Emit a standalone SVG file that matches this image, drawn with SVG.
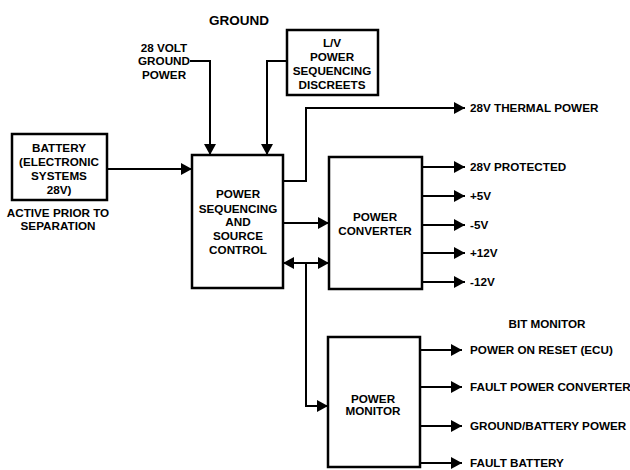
<svg xmlns="http://www.w3.org/2000/svg" width="630" height="470" viewBox="0 0 630 470">
<style>
text{font-family:"Liberation Sans",Arial,sans-serif;font-weight:bold;font-size:11.7px;fill:#000}
.c{text-anchor:middle}
.box{fill:#fff;stroke:#000;stroke-width:2.5}
.ln{fill:none;stroke:#000;stroke-width:2}
</style>
<defs>
<marker id="ah" markerUnits="userSpaceOnUse" markerWidth="11" markerHeight="12" refX="11" refY="6" orient="auto-start-reverse">
<path d="M0,0 L11,6 L0,12 z" fill="#000"/>
</marker>
</defs>
<rect width="630" height="470" fill="#fff"/>
<text class="c" x="239" y="25" style="font-size:13.5px">GROUND</text>
<g id="ground-power">
<text class="c" x="164" y="52">28 VOLT</text>
<text class="c" x="164" y="65">GROUND</text>
<text class="c" x="164" y="79">POWER</text>
</g>
<g id="lv-discretes">
<rect class="box" x="287" y="30" width="91" height="65"/>
<text class="c" x="332" y="47">L/V</text>
<text class="c" x="332" y="61">POWER</text>
<text class="c" x="332" y="75">SEQUENCING</text>
<text class="c" x="332" y="89">DISCREETS</text>
</g>
<g id="battery">
<rect class="box" x="12" y="134" width="95" height="66"/>
<text class="c" x="59" y="152">BATTERY</text>
<text class="c" x="59" y="166">(ELECTRONIC</text>
<text class="c" x="59" y="180">SYSTEMS</text>
<text class="c" x="59" y="194">28V)</text>
<text class="c" x="58" y="217">ACTIVE PRIOR TO</text>
<text class="c" x="58" y="230">SEPARATION</text>
</g>
<g id="pssc">
<rect class="box" x="192" y="155" width="91" height="133"/>
<text class="c" x="238" y="198">POWER</text>
<text class="c" x="238" y="213">SEQUENCING</text>
<text class="c" x="238" y="226">AND</text>
<text class="c" x="238" y="240">SOURCE</text>
<text class="c" x="238" y="254">CONTROL</text>
</g>
<g id="power-converter">
<rect class="box" x="329" y="157" width="93" height="132"/>
<text class="c" x="375" y="221">POWER</text>
<text class="c" x="375" y="235">CONVERTER</text>
</g>
<g id="power-monitor">
<rect class="box" x="328" y="337" width="92" height="130"/>
<text class="c" x="373" y="403">POWER</text>
<text class="c" x="373" y="415">MONITOR</text>
</g>
<g id="outputs">
<text x="470" y="112">28V THERMAL POWER</text>
<text x="470" y="171">28V PROTECTED</text>
<text x="470" y="200">+5V</text>
<text x="470" y="229">-5V</text>
<text x="470" y="257">+12V</text>
<text x="470" y="286">-12V</text>
<text class="c" x="547" y="328">BIT MONITOR</text>
<text x="470" y="354">POWER ON RESET (ECU)</text>
<text x="470" y="391">FAULT POWER CONVERTER</text>
<text x="470" y="430">GROUND/BATTERY POWER</text>
<text x="470" y="467">FAULT BATTERY</text>
</g>
<g id="connectors" class="ln">
<path class="ln" d="M190,61 H210 V155" marker-end="url(#ah)"/>
<path class="ln" d="M287,61 H267 V155" marker-end="url(#ah)"/>
<path class="ln" d="M107,169 H192" marker-end="url(#ah)"/>
<path class="ln" d="M283,181 H306 V108 H465" marker-end="url(#ah)"/>
<path class="ln" d="M283,223 H329" marker-end="url(#ah)"/>
<path class="ln" d="M283,263 H329" marker-start="url(#ah)" marker-end="url(#ah)"/>
<path class="ln" d="M306,263 V406 H328" marker-end="url(#ah)"/>
<path class="ln" d="M422,167 H465" marker-end="url(#ah)"/>
<path class="ln" d="M422,196 H465" marker-end="url(#ah)"/>
<path class="ln" d="M422,225 H465" marker-end="url(#ah)"/>
<path class="ln" d="M422,253 H465" marker-end="url(#ah)"/>
<path class="ln" d="M422,282 H465" marker-end="url(#ah)"/>
<path class="ln" d="M420,350 H462" marker-end="url(#ah)"/>
<path class="ln" d="M420,387 H462" marker-end="url(#ah)"/>
<path class="ln" d="M420,426 H462" marker-end="url(#ah)"/>
<path class="ln" d="M420,463 H462" marker-end="url(#ah)"/>
</g>
</svg>
